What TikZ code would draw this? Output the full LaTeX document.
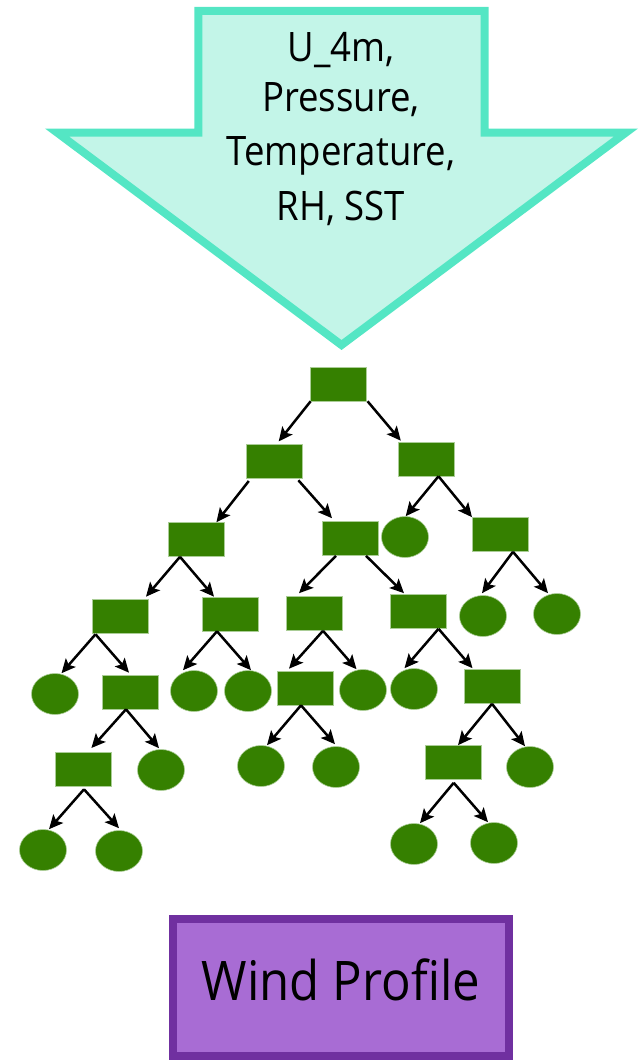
\documentclass[tikz,border=0pt]{standalone}
\usepackage{fontspec}
\newfontfamily\labelfont[FakeStretch=0.9]{Open Sans}
\usetikzlibrary{shapes.geometric,arrows.meta,calc}

\definecolor{inflow}{RGB}{195,245,232}
\definecolor{inflowline}{RGB}{84,230,196}
\definecolor{leafgreen}{RGB}{53,128,0}
\definecolor{leafedge}{RGB}{170,205,150}
\definecolor{outfill}{RGB}{168,108,212}
\definecolor{outline}{RGB}{112,48,160}

% arrow from a point below the parent to a point above the child
\newcommand\tedge[4]{\draw[treearrow] ($(#1.south)+(#2)$) -- ($(#3.north)+(#4)$);}

\begin{document}
\begin{tikzpicture}[x=1pt, y=-1pt,
  splitbox/.style={rectangle, fill=leafgreen, draw=leafedge, line width=0.6pt,
    minimum width=56pt, minimum height=34pt, inner sep=0pt},
  leaf/.style={ellipse, fill=leafgreen, draw=leafedge, line width=0.6pt,
    minimum width=47pt, minimum height=41pt, inner sep=0pt},
  treearrow/.style={draw=black, line width=2.5pt,
    -{Stealth[length=14pt,width=13pt,inset=3pt]}},
  intext/.style={anchor=base, inner sep=0pt,
    font=\labelfont\fontsize{40.6}{48}\selectfont},
  outbox/.style={rectangle, fill=outfill, draw=outline, line width=8pt,
    minimum width=336pt, minimum height=137.5pt, inner sep=0pt,
    text height=39pt, text depth=13pt,
    font=\labelfont\fontsize{54.6}{60}\selectfont}
]
\useasboundingbox (0,0) rectangle (641,1060);

% input arrow
\draw[fill=inflow, draw=inflowline, line width=8pt, line join=miter]
  (198.3,10.8) -- (484.5,10.8) -- (484.5,132.5) -- (626,132.5)
  -- (341.5,345) -- (57,132.5) -- (198.3,132.5) -- cycle;
\node[intext] (in1) at (341,61)    {U\_4m,};
\node[intext] (in2) at (341,111.7) {Pressure,};
\node[intext] (in3) at (341,165.7) {Temperature,};
\node[intext] (in4) at (341,220)   {RH, SST};

% decision tree
\node[splitbox] (R) at (338,384) {};
\node[splitbox] (A) at (274,461) {};
\node[splitbox] (B) at (426,459) {};
\node[splitbox] (C) at (196,539.5) {};
\node[splitbox] (D) at (350,538.5) {};
\node[leaf]     (Bl) at (405,537) {};
\node[splitbox] (E) at (500,534.5) {};
\node[splitbox] (F) at (120,616) {};
\node[splitbox] (G) at (230,614) {};
\node[splitbox] (H) at (314.5,613.5) {};
\node[splitbox] (I) at (418,611.5) {};
\node[leaf]     (e1) at (483,616) {};
\node[leaf]     (e2) at (557,614) {};
\node[leaf]     (f1) at (55,694) {};
\node[splitbox] (J) at (130,692) {};
\node[leaf]     (g1) at (194,691) {};
\node[leaf]     (g2) at (248,691) {};
\node[splitbox] (K) at (305,688) {};
\node[leaf]     (h2) at (363,690) {};
\node[leaf]     (i1) at (414,689) {};
\node[splitbox] (L) at (492,686.5) {};
\node[splitbox] (M) at (83,769) {};
\node[leaf]     (j2) at (161,770) {};
\node[leaf]     (k1) at (261,766) {};
\node[leaf]     (k2) at (336,767) {};
\node[splitbox] (N) at (453,762.5) {};
\node[leaf]     (l2) at (530,767) {};
\node[leaf]     (m1) at (43,850) {};
\node[leaf]     (m2) at (119,851) {};
\node[leaf]     (n1) at (414,844) {};
\node[leaf]     (n2) at (494,843) {};

\tedge{R}{-27.4,0}{A}{4.7,-2.3}
\tedge{R}{29.6,0}{B}{-25.2,-1}
\tedge{A}{-25.2,2.7}{C}{20.4,0}
\tedge{A}{24.4,2}{D}{-18,-3}
\tedge{B}{12.5,0}{Bl}{0.7,0}
\tedge{B}{12.5,0}{E}{-28,0}
\tedge{C}{-16,0}{F}{26,-2}
\tedge{C}{-16,0}{G}{-16,0}
\tedge{D}{-14,0}{H}{-15.5,-3}
\tedge{D}{16,0}{I}{-14,-1}
\tedge{E}{13,0}{e1}{-1,-2}
\tedge{E}{13,0}{e2}{-9,0}
\tedge{F}{-24.5,1}{f1}{6.5,0}
\tedge{F}{-24.5,1}{J}{-1,-2}
\tedge{G}{-13,0}{g1}{-11,0}
\tedge{G}{-13,0}{g2}{3,0}
\tedge{H}{8.5,0}{K}{-16,-2}
\tedge{H}{8.5,0}{h2}{-6.5,0}
\tedge{I}{20.5,0}{i1}{-9.5,0}
\tedge{I}{20.5,0}{L}{-19.5,-1}
\tedge{J}{-4,0}{M}{8.4,-3.7}
\tedge{J}{-4,0}{j2}{-2,-1}
\tedge{K}{-4,0}{k1}{6,0}
\tedge{K}{-4,0}{k2}{-1,-2}
\tedge{L}{0,0}{N}{5,0}
\tedge{L}{0,0}{l2}{-5,0}
\tedge{M}{1,3}{m1}{6,0}
\tedge{M}{1,3}{m2}{0,-2}
\tedge{N}{0.7,3}{n1}{6,0}
\tedge{N}{0.7,3}{n2}{-6,0}

% model output
\node[outbox] (out) at (341,987.25) {Wind Profile};
\end{tikzpicture}
\end{document}
